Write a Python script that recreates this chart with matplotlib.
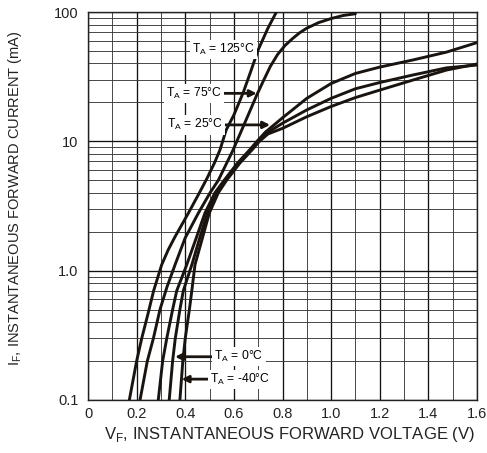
import matplotlib
matplotlib.use('Agg')
import matplotlib.pyplot as plt
from matplotlib.ticker import FixedLocator, NullFormatter, LogLocator

plt.rcParams['font.family'] = ['Liberation Sans', 'DejaVu Sans']
plt.rcParams['mathtext.fontset'] = 'custom'
plt.rcParams['mathtext.rm'] = 'Liberation Sans'

# curves: forward voltage (V) vs forward current (mA)
v_125 = [0.17, 0.20, 0.221, 0.245, 0.27, 0.303, 0.33, 0.358, 0.413, 0.455, 0.49, 0.52, 0.543, 0.568, 0.60, 0.638, 0.67, 0.70, 0.74, 0.775]
i_125 = [0.1, 0.2, 0.3, 0.45, 0.7, 1.11, 1.45, 1.83, 2.79, 3.9, 5.2, 6.8, 8.6, 12.2, 16, 23.7, 35, 51, 75, 100]

v_75 = [0.214, 0.244, 0.269, 0.296, 0.325, 0.358, 0.399, 0.454, 0.502, 0.536, 0.597, 0.632, 0.695, 0.72, 0.75, 0.78, 0.81, 0.84, 0.87, 0.90, 0.95, 1.0, 1.05, 1.10]
i_75 = [0.1, 0.2, 0.3, 0.5, 0.75, 1.11, 1.78, 2.79, 4.0, 5.0, 8.6, 12.2, 23, 29, 38, 47, 55, 62, 69, 75, 83, 89, 94, 97]

v_25 = [0.289, 0.307, 0.324, 0.348, 0.365, 0.406, 0.447, 0.481, 0.522, 0.56, 0.615, 0.665, 0.695, 0.73, 0.80, 0.90, 1.0, 1.1, 1.2, 1.337, 1.475, 1.6]
i_25 = [0.1, 0.2, 0.3, 0.5, 0.7, 1.11, 1.83, 2.79, 4.0, 5.0, 6.8, 8.6, 10, 11.8, 15.2, 21.5, 28, 33.5, 37.5, 42.6, 49, 58]

v_0 = [0.334, 0.348, 0.359, 0.378, 0.392, 0.427, 0.461, 0.491, 0.529, 0.565, 0.62, 0.67, 0.70, 0.735, 0.80, 0.90, 1.0, 1.1, 1.2, 1.337, 1.475, 1.6]
i_0 = [0.1, 0.2, 0.3, 0.5, 0.7, 1.11, 1.83, 2.79, 4.0, 5.0, 6.8, 8.6, 10, 11.6, 13.8, 17.5, 21.5, 25.5, 28.5, 32.6, 37, 38.9]

v_m40 = [0.378, 0.39, 0.40, 0.417, 0.427, 0.44, 0.472, 0.499, 0.536, 0.57, 0.625, 0.675, 0.705, 0.74, 0.80, 0.90, 1.0, 1.1, 1.2, 1.337, 1.475, 1.6]
i_m40 = [0.1, 0.2, 0.3, 0.5, 0.7, 1.11, 1.83, 2.79, 4.0, 5.0, 6.8, 8.6, 10, 11.4, 12.6, 15.5, 18.6, 21.8, 24.9, 29.8, 35.6, 39.6]

x_ticks = [0, 0.2, 0.4, 0.6, 0.8, 1.0, 1.2, 1.4, 1.6]
x_labels = ['0', '0.2', '0.4', '0.6', '0.8', '1.0', '1.2', '1.4', '1.6']
y_ticks = [0.1, 1, 10, 100]
y_labels = ['0.1', '1.0', '10', '100']

fig = plt.figure(figsize=(4.87, 4.53), dpi=100)
ax = fig.add_axes([0.1807, 0.117, 0.7988, 0.8565])
ax.set_yscale('log')
ax.set_xlim(0, 1.6)
ax.set_ylim(0.1, 100)

# graph-paper grid
ax.xaxis.set_minor_locator(FixedLocator([k / 10 for k in range(17)]))
ax.yaxis.set_minor_locator(LogLocator(base=10, subs=range(2, 10)))
ax.yaxis.set_minor_formatter(NullFormatter())
ax.grid(True, which='minor', color='#3a3a3a', lw=0.65)
ax.grid(True, which='major', color='#111111', lw=0.95)
ax.set_axisbelow(True)
for s in ax.spines.values():
    s.set_color('#222222')
    s.set_linewidth(1.0)

ax.set_xticks(x_ticks)
ax.set_xticklabels(x_labels)
ax.set_yticks(y_ticks)
ax.set_yticklabels(y_labels)
ax.tick_params(which='both', length=0, labelsize=10.5, colors='#222222')
ax.tick_params(axis='y', pad=7)
ax.tick_params(axis='x', pad=5)

for v, i in [(v_125, i_125), (v_75, i_75), (v_25, i_25), (v_0, i_0), (v_m40, i_m40)]:
    ax.plot(v, i, color='#1a1410', lw=2.1, solid_capstyle='round', solid_joinstyle='round', zorder=3)

box = dict(facecolor='white', edgecolor='none', pad=1.5)
arrow = dict(arrowstyle='-|>', color='#1a1410', lw=2.0, mutation_scale=10, shrinkA=0, shrinkB=0)
ax.text(0.685, 51, r'T$_\mathregular{A}$ = 125°C', ha='right', va='center', fontsize=8.7, bbox=box, zorder=4)
ax.annotate(r'T$_\mathregular{A}$ = 75°C', xy=(0.694, 23.5), xytext=(0.55, 23.5), ha='right', va='center',
            fontsize=8.7, bbox=box, arrowprops=arrow, zorder=4)
ax.annotate(r'T$_\mathregular{A}$ = 25°C', xy=(0.749, 13.4), xytext=(0.555, 13.4), ha='right', va='center',
            fontsize=8.7, bbox=box, arrowprops=arrow, zorder=4)
ax.annotate(r'T$_\mathregular{A}$ = 0°C', xy=(0.358, 0.216), xytext=(0.52, 0.216), ha='left', va='center',
            fontsize=8.7, bbox=box, arrowprops=arrow, zorder=4)
ax.annotate(r'T$_\mathregular{A}$ = -40°C', xy=(0.385, 0.145), xytext=(0.5, 0.145), ha='left', va='center',
            fontsize=8.7, bbox=box, arrowprops=arrow, zorder=4)

ax.set_xlabel(r'V$_\mathregular{F}$, INSTANTANEOUS FORWARD VOLTAGE (V)', fontsize=12, color='#222222')
ax.xaxis.set_label_coords(0.519, -0.065)
ax.set_ylabel(r'I$_\mathregular{F}$, INSTANTANEOUS FORWARD CURRENT (mA)', fontsize=10.5, color='#222222')
ax.yaxis.set_label_coords(-0.165, 0.52)

fig.savefig('out.png', dpi=100)
